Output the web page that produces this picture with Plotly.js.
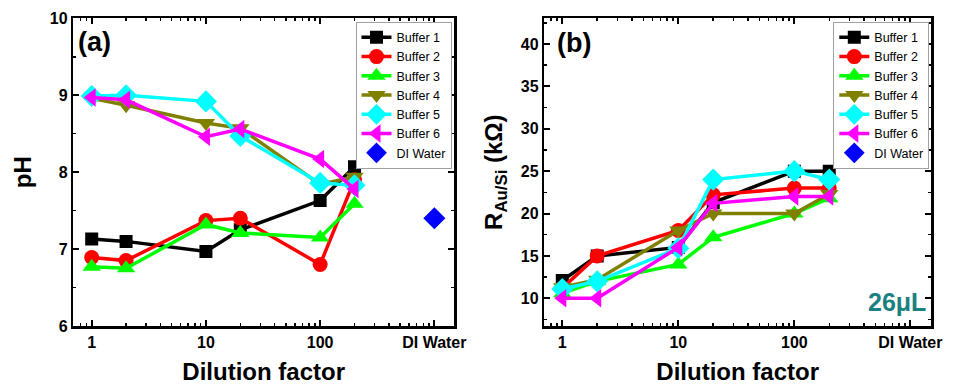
<!DOCTYPE html>
<html>
<head>
<meta charset="utf-8">
<script src="https://cdn.plot.ly/plotly-3.0.1.min.js"></script>
<style>html,body{margin:0;padding:0;background:#fff;}#chart{width:953px;height:385px;}</style>
</head>
<body>
<div id="chart"></div>
<script>
// ---- data ----
const dilution = [1, 2, 10, 20, 100, 200];
const diWaterX = [1000];
const xTickVals = [1, 10, 100, 1000];
const xTickText = ["1", "10", "100", "DI Water"];
const seriesNames = ["Buffer 1", "Buffer 2", "Buffer 3", "Buffer 4", "Buffer 5", "Buffer 6"];

const pH_b1 = [7.13, 7.10, 6.97, 7.25, 7.63, 8.07];
const pH_b2 = [6.89, 6.85, 7.37, 7.40, 6.80, 7.90];
const pH_b3 = [6.77, 6.75, 7.32, 7.21, 7.15, 7.59];
const pH_b4 = [8.96, 8.87, 8.64, 8.57, 7.84, 7.94];
const pH_b5 = [8.99, 9.00, 8.92, 8.47, 7.86, 7.83];
const pH_b6 = [8.97, 8.94, 8.46, 8.56, 8.17, 7.78];
const pH_di = [7.40];

const R_b1 = [12.1, 15, 16, 21.3, 25, 25];
const R_b2 = [11.2, 15, 18, 22.2, 23, 23];
const R_b3 = [10.6, 12, 14, 17.2, 20, 21.8];
const R_b4 = [11.3, 12.2, 18, 20, 20, 22.3];
const R_b5 = [11.1, 12, 15.9, 24, 25, 24];
const R_b6 = [10, 10, 16, 21.2, 22, 22];
const R_di = [27];

// ---- styles ----
const colors = ["#000000", "#ff0000", "#00ff00", "#808000", "#00ffff", "#ff00ff"];
const symbols = ["square", "circle", "triangle-up", "triangle-down", "diamond", "triangle-left"];
const sizes = [13, 15, 16, 16, 17, 16];
const FONT = "Liberation Sans, Arial, sans-serif";

const pHSeries = [pH_b1, pH_b2, pH_b3, pH_b4, pH_b5, pH_b6];
const RSeries = [R_b1, R_b2, R_b3, R_b4, R_b5, R_b6];

const traces = [];
function addPanel(series, di, xa, ya, leg) {
  series.forEach((ys, i) => {
    traces.push({
      x: dilution, y: ys, xaxis: xa, yaxis: ya, legend: leg,
      name: seriesNames[i], type: "scatter", mode: "lines+markers",
      line: {color: colors[i], width: 3.5},
      marker: {color: colors[i], symbol: symbols[i], size: sizes[i]}
    });
  });
  traces.push({
    x: diWaterX, y: di, xaxis: xa, yaxis: ya, legend: leg,
    name: "DI Water", type: "scatter", mode: "markers",
    marker: {color: "#0000ff", symbol: "diamond", size: 17}
  });
}
addPanel(pHSeries, pH_di, "x", "y", "legend");
addPanel(RSeries, R_di, "x2", "y2", "legend2");

const minorX = [0.7, 0.8, 0.9, 2, 3, 4, 5, 6, 7, 8, 9, 20, 30, 40, 50, 60, 70, 80, 90, 200, 300, 400, 500, 600, 700, 800, 900];

function xAxis(domain, range, anchor) {
  return {
    type: "log", domain: domain, range: range, anchor: anchor,
    tickmode: "array", tickvals: xTickVals, ticktext: xTickText,
    ticks: "inside", ticklen: 6, tickwidth: 2, tickcolor: "#000",
    showline: true, linewidth: 2.5, linecolor: "#000", mirror: "allticks",
    showgrid: false, zeroline: false,
    tickfont: {family: FONT, size: 16, weight: "bold", color: "#000"},
    minor: {tickmode: "array", tickvals: minorX, ticks: "inside", ticklen: 3, tickwidth: 1.5, tickcolor: "#000", showgrid: false},
    title: {text: "Dilution factor", font: {family: FONT, size: 24, weight: "bold", color: "#000"}, standoff: 14},
    automargin: false
  };
}
function yAxis(domain, range, anchor, dtick, minorStep, title) {
  return {
    domain: domain, range: range, anchor: anchor,
    tickmode: "linear", tick0: 0, dtick: dtick,
    ticks: "inside", ticklen: 6, tickwidth: 2, tickcolor: "#000",
    showline: true, linewidth: 2.5, linecolor: "#000", mirror: "allticks",
    showgrid: false, zeroline: false,
    tickfont: {family: FONT, size: 16, weight: "bold", color: "#000"},
    minor: {tickmode: "linear", tick0: 0, dtick: minorStep, ticks: "inside", ticklen: 3, tickwidth: 1.5, tickcolor: "#000", showgrid: false},
    title: {text: title, font: {family: FONT, size: 24, weight: "bold", color: "#000"}, standoff: 12},
    automargin: false
  };
}

const yDom = [1 - 326 / 385, 1 - 18.3 / 385];
const layout = {
  width: 953, height: 385,
  margin: {l: 0, r: 0, t: 0, b: 0},
  paper_bgcolor: "#fff", plot_bgcolor: "#fff",
  font: {family: FONT, color: "#000"},
  showlegend: true,
  xaxis: xAxis([73.3 / 953, 454 / 953], [-0.161, 3.172], "y"),
  yaxis: yAxis(yDom, [6, 10], "x", 1, 0.5, "pH"),
  xaxis2: xAxis([544.3 / 953, 931 / 953], [-0.155, 3.178], "y2"),
  yaxis2: yAxis(yDom, [6.73, 43.03], "x2", 5, 2.5, "R<sub>Au/Si</sub> (kΩ)"),
  legend: {
    x: 451.5 / 953, xanchor: "right", y: 1 - 21.7 / 385, yanchor: "top",
    bgcolor: "#fff", bordercolor: "#a0a0a0", borderwidth: 1,
    font: {family: FONT, size: 12.5, color: "#000"}, tracegroupgap: 0
  },
  legend2: {
    x: 929.3 / 953, xanchor: "right", y: 1 - 21.7 / 385, yanchor: "top",
    bgcolor: "#fff", bordercolor: "#a0a0a0", borderwidth: 1,
    font: {family: FONT, size: 12.5, color: "#000"}, tracegroupgap: 0
  },
  annotations: [
    {text: "(a)", xref: "paper", yref: "paper", x: 94.5 / 953, y: 1 - 42.5 / 385, xanchor: "center", yanchor: "middle", showarrow: false,
     font: {family: FONT, size: 27, weight: "bold", color: "#000"}},
    {text: "(b)", xref: "paper", yref: "paper", x: 574 / 953, y: 1 - 43.5 / 385, xanchor: "center", yanchor: "middle", showarrow: false,
     font: {family: FONT, size: 27, weight: "bold", color: "#000"}},
    {text: "26μL", xref: "paper", yref: "paper", x: 897 / 953, y: 1 - 302 / 385, xanchor: "center", yanchor: "middle", showarrow: false,
     font: {family: FONT, size: 25, weight: "bold", color: "#1b8080"}}
  ]
};

Plotly.newPlot("chart", traces, layout, {displayModeBar: false, staticPlot: true});
</script>
</body>
</html>
